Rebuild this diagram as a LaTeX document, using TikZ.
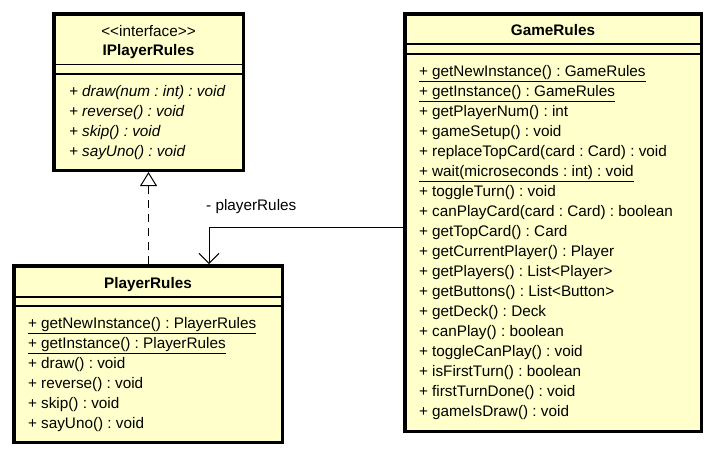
\documentclass[tikz,border=0pt]{standalone}
\usepackage{fontspec}
\setmainfont{Liberation Sans}
\usetikzlibrary{positioning,arrows.meta}
\definecolor{classfill}{RGB}{255,255,204}
\definecolor{classline}{RGB}{0,0,0}
\frenchspacing

\begin{document}
\begin{tikzpicture}[
    x=1pt, y=-1pt,
    node distance = 5pt,
    font={\fontsize{15.3}{18}\selectfont},
    classbox/.style={draw=classline,line width=3.5pt,fill=classfill,rectangle,anchor=north west},
    txt/.style={inner sep=0pt,outer sep=0pt,text height=11pt,text depth=4pt},
    title/.style={txt,font={\fontsize{15.3}{18}\selectfont\bfseries}},
    member/.style={txt},
    sep/.style={line width=1.3pt},
    link/.style={line width=1pt},
]

    \useasboundingbox (0,0) rectangle (714,456);

    % Classes
    \node[classbox,minimum width=189.5pt,minimum height=156.5pt] (iplayer) at (52,12)  {};
    \node[classbox,minimum width=268.5pt,minimum height=176.5pt] (player)  at (12,264) {};
    \node[classbox,minimum width=296.5pt,minimum height=417.5pt] (game)    at (403,12) {};

    % Compartments
    \draw[sep] ([yshift=-52.5pt]iplayer.north west) -- ([yshift=-52.5pt]iplayer.north east);
    \draw[sep] ([yshift=-62pt]iplayer.north west)   -- ([yshift=-62pt]iplayer.north east);
    \draw[sep] ([yshift=-33pt]player.north west)    -- ([yshift=-33pt]player.north east);
    \draw[sep] ([yshift=-42pt]player.north west)    -- ([yshift=-42pt]player.north east);
    \draw[sep] ([yshift=-32pt]game.north west)      -- ([yshift=-32pt]game.north east);
    \draw[sep] ([yshift=-42pt]game.north west)      -- ([yshift=-42pt]game.north east);

    % Headers
    \node[txt,below=13.5pt of iplayer.north]   (iplayerstereo) {<\kern0pt<interface>\kern0pt>};
    \node[title,below=3.9pt of iplayerstereo]  (iplayername)   {IPlayerRules};
    \node[title,below=13.4pt of player.north]  (playername)    {PlayerRules};
    \node[title,below=12.4pt of game.north]    (gamename)      {GameRules};

    % IPlayerRules operations
    \node[member,below right=73.5pt and 17pt of iplayer.north west] (iplayerop1) {\itshape + draw(num : int) : void};
    \node[member,below right=5pt and 0pt of iplayerop1.south west]  (iplayerop2) {\itshape + reverse() : void};
    \node[member,below right=5pt and 0pt of iplayerop2.south west]  (iplayerop3) {\itshape + skip() : void};
    \node[member,below right=5pt and 0pt of iplayerop3.south west]  (iplayerop4) {\itshape + sayUno() : void};

    % PlayerRules operations
    \node[member,below right=53.5pt and 16pt of player.north west] (playerop1) {\underline{+ getNewInstance() : PlayerRules}};
    \node[member,below right=5pt and 0pt of playerop1.south west]  (playerop2) {\underline{+ getInstance() : PlayerRules}};
    \node[member,below right=5pt and 0pt of playerop2.south west]  (playerop3) {+ draw() : void};
    \node[member,below right=5pt and 0pt of playerop3.south west]  (playerop4) {+ reverse() : void};
    \node[member,below right=5pt and 0pt of playerop4.south west]  (playerop5) {+ skip() : void};
    \node[member,below right=5pt and 0pt of playerop5.south west]  (playerop6) {+ sayUno() : void};

    % GameRules operations
    \node[member,below right=53.5pt and 16pt of game.north west] (gameop1) {\underline{+ getNewInstance() : GameRules}};
    \node[member,below right=5pt and 0pt of gameop1.south west]  (gameop2)  {\underline{+ getInstance() : GameRules}};
    \node[member,below right=5pt and 0pt of gameop2.south west]  (gameop3)  {+ getPlayerNum() : int};
    \node[member,below right=5pt and 0pt of gameop3.south west]  (gameop4)  {+ gameSetup() : void};
    \node[member,below right=5pt and 0pt of gameop4.south west]  (gameop5)  {+ replaceTopCard(card : Card) : void};
    \node[member,below right=5pt and 0pt of gameop5.south west]  (gameop6)  {\underline{+ wait(microseconds : int) : void}};
    \node[member,below right=5pt and 0pt of gameop6.south west]  (gameop7)  {+ toggleTurn() : void};
    \node[member,below right=5pt and 0pt of gameop7.south west]  (gameop8)  {+ canPlayCard(card : Card) : boolean};
    \node[member,below right=5pt and 0pt of gameop8.south west]  (gameop9)  {+ getTopCard() : Card};
    \node[member,below right=5pt and 0pt of gameop9.south west]  (gameop10) {+ getCurrentPlayer() : Player};
    \node[member,below right=5pt and 0pt of gameop10.south west] (gameop11) {+ getPlayers() : List<Player>};
    \node[member,below right=5pt and 0pt of gameop11.south west] (gameop12) {+ getButtons() : List<Button>};
    \node[member,below right=5pt and 0pt of gameop12.south west] (gameop13) {+ getDeck() : Deck};
    \node[member,below right=5pt and 0pt of gameop13.south west] (gameop14) {+ canPlay() : boolean};
    \node[member,below right=5pt and 0pt of gameop14.south west] (gameop15) {+ toggleCanPlay() : void};
    \node[member,below right=5pt and 0pt of gameop15.south west] (gameop16) {+ isFirstTurn() : boolean};
    \node[member,below right=5pt and 0pt of gameop16.south west] (gameop17) {+ firstTurnDone() : void};
    \node[member,below right=5pt and 0pt of gameop17.south west] (gameop18) {+ gameIsDraw() : void};

    % Realization
    \draw[link,dash pattern=on 8pt off 6pt,-{Triangle[length=14pt,width=17pt,fill=white]}] (player.north -| iplayer.south) -- (iplayer.south);

    % Association
    \coordinate (bend) at (209,227);
    \draw[link,-{Straight Barb[length=10pt,width=20pt]}] (game.west |- bend) -- (bend) -- (player.north -| bend);
    \node[inner sep=0pt,above right=13pt and -3pt of bend] (rolename) {- playerRules};

\end{tikzpicture}
\end{document}
